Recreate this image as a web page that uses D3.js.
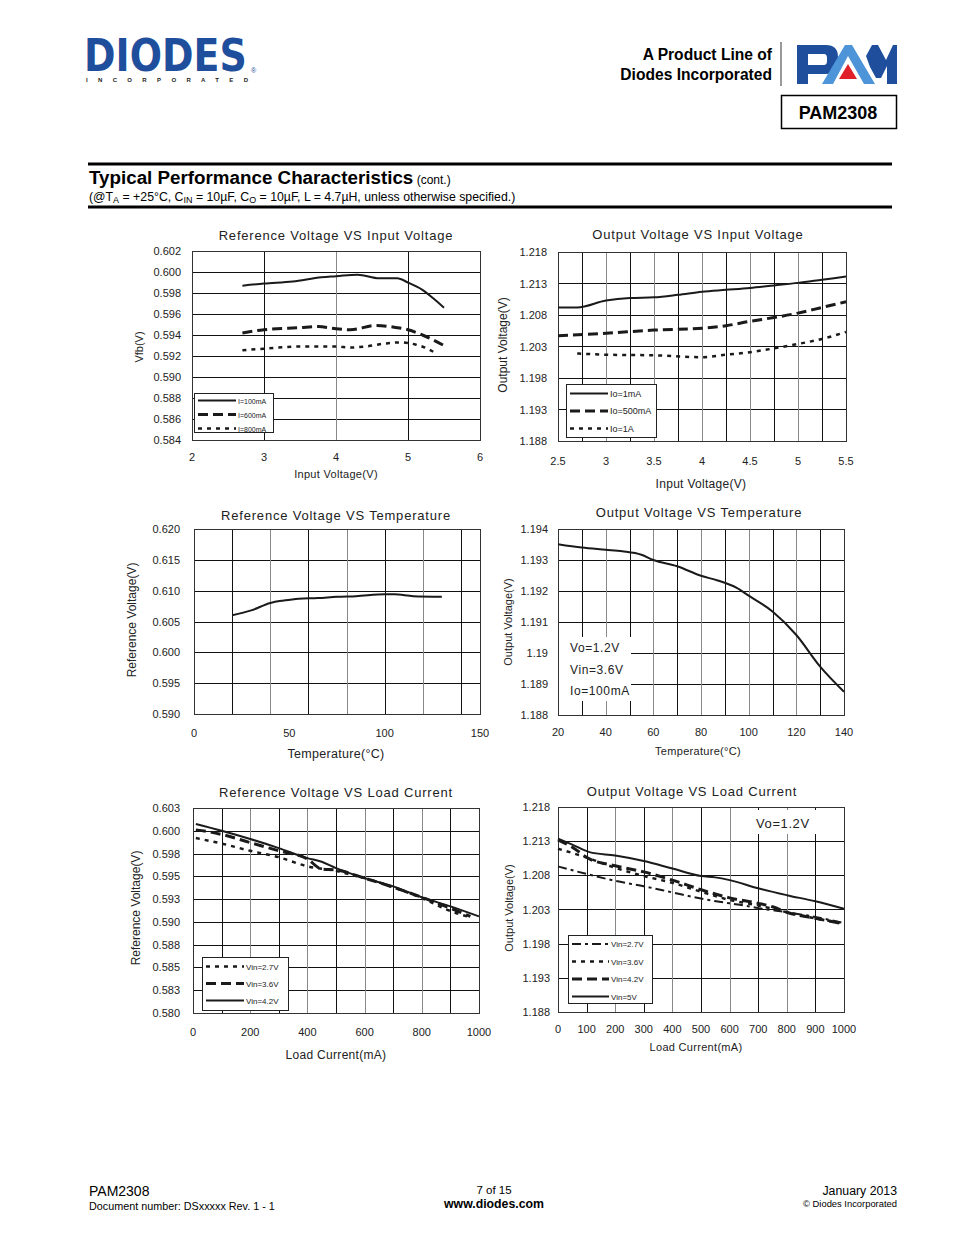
<!DOCTYPE html>
<html>
<head>
<meta charset="utf-8">
<script src="https://cdn.jsdelivr.net/npm/d3@7"></script>
<style>
  body { margin: 0; background: #fff; }
  svg { display: block; font-family: "Liberation Sans", Arial, sans-serif; }
</style>
</head>
<body>
<div id="root"></div>
<script>
// ---- chart 1: reference voltage vs input voltage
const vinRef = [2.7, 3.0, 3.4, 3.8, 4.0, 4.3, 4.6, 4.85, 5.0, 5.2, 5.35, 5.5];
const vfb100 = [0.5987, 0.5989, 0.5991, 0.5995, 0.5996, 0.59975, 0.5994, 0.5994, 0.5990, 0.5983, 0.5975, 0.5966];
const vinRef600 = [2.7, 3.0, 3.5, 3.75, 4.0, 4.2, 4.55, 4.85, 5.0, 5.2, 5.5];
const vfb600 = [0.5942, 0.5945, 0.5947, 0.5948, 0.5946, 0.5945, 0.5949, 0.5947, 0.5945, 0.5940, 0.5930];
const vinRef800 = [2.7, 3.0, 3.5, 4.0, 4.2, 4.4, 4.7, 4.9, 5.1, 5.3, 5.4];
const vfb800 = [0.59255, 0.5927, 0.5929, 0.5929, 0.5928, 0.5929, 0.5932, 0.5933, 0.5931, 0.5926, 0.5922];
const c1YTicks = [0.584, 0.586, 0.588, 0.590, 0.592, 0.594, 0.596, 0.598, 0.600, 0.602];
const c1XTicks = [2, 3, 4, 5, 6];

// ---- chart 2: output voltage vs input voltage
const vinOut = [2.5, 2.7, 3.0, 3.25, 3.5, 3.75, 4.0, 4.25, 4.5, 4.75, 5.0, 5.25, 5.5];
const vo1mA = [1.2092, 1.2092, 1.2103, 1.2107, 1.2108, 1.2112, 1.2117, 1.2120, 1.2123, 1.2127, 1.2131, 1.2136, 1.2141];
const vinOut500 = [2.5, 3.0, 3.5, 4.0, 4.25, 4.5, 4.75, 5.0, 5.25, 5.5];
const vo500mA = [1.2047, 1.2051, 1.2056, 1.2059, 1.2063, 1.2070, 1.2076, 1.2083, 1.2092, 1.2101];
const vinOut1A = [2.7, 3.0, 3.5, 4.0, 4.25, 4.5, 4.75, 5.0, 5.25, 5.5];
const vo1A = [1.2019, 1.2017, 1.2016, 1.2013, 1.2017, 1.2021, 1.2027, 1.2034, 1.2042, 1.2053];
const c2YTicks = [1.188, 1.193, 1.198, 1.203, 1.208, 1.213, 1.218];
const c2XTicks = [2.5, 3, 3.5, 4, 4.5, 5, 5.5];
const c2XGrid = [2.75, 3, 3.25, 3.5, 3.75, 4, 4.25, 4.5, 4.75, 5, 5.25];

// ---- chart 3: reference voltage vs temperature
const tempRef = [20, 30, 40, 47, 55, 65, 75, 85, 100, 105, 115, 130];
const vrefTemp = [0.6060, 0.6068, 0.6080, 0.6084, 0.6087, 0.6088, 0.6090, 0.6091, 0.6094, 0.6094, 0.6091, 0.6090];
const c3YTicks = [0.590, 0.595, 0.600, 0.605, 0.610, 0.615, 0.620];
const c3XTicks = [0, 50, 100, 150];
const c3XGrid = [20, 40, 60, 80, 100, 120, 140];

// ---- chart 4: output voltage vs temperature
const tempOut = [20, 30, 40, 47, 55, 60, 70, 80, 87, 95, 100, 110, 120, 130, 140];
const voTemp = [1.19351, 1.1934, 1.19333, 1.19328, 1.19317, 1.1930, 1.1928, 1.19249, 1.19234, 1.1921, 1.19185, 1.19134, 1.19058, 1.18956, 1.18875];
const c4YTicks = [1.188, 1.189, 1.19, 1.191, 1.192, 1.193, 1.194];
const c4XTicks = [20, 40, 60, 80, 100, 120, 140];
const c4XGrid = [30, 40, 50, 60, 70, 80, 90, 100, 110, 120, 130];
const c4Notes = ["Vo=1.2V", "Vin=3.6V", "Io=100mA"];

// ---- chart 5: reference voltage vs load current
const iload42 = [10, 100, 150, 200, 300, 400, 450, 500, 600, 700, 800, 900, 1000];
const vref42 = [0.60074, 0.6000, 0.59956, 0.5991, 0.5981, 0.5970, 0.5966, 0.5959, 0.5948, 0.5939, 0.5927, 0.5917, 0.5906];
const iload36 = [10, 60, 100, 200, 300, 400, 450, 500, 600, 700, 800, 900, 970];
const vref36 = [0.6001, 0.59986, 0.5996, 0.5987, 0.5978, 0.5969, 0.5958, 0.5957, 0.5948, 0.5938, 0.5927, 0.5915, 0.5906];
const iload27 = [10, 100, 200, 300, 400, 500, 550, 600, 700, 800, 900, 970];
const vref27 = [0.5992, 0.5986, 0.5978, 0.5971, 0.5961, 0.5956, 0.5952, 0.5948, 0.5938, 0.5926, 0.5912, 0.5905];
const c5YTicks = [0.58, 0.5825, 0.585, 0.5875, 0.59, 0.5925, 0.595, 0.5975, 0.60, 0.6025];
const c5YLabels = ["0.580", "0.583", "0.585", "0.588", "0.590", "0.593", "0.595", "0.598", "0.600", "0.603"];
const c5XTicks = [0, 200, 400, 600, 800, 1000];
const c5XGrid = [100, 200, 300, 400, 500, 600, 700, 800, 900];

// ---- chart 6: output voltage vs load current
const iout = [0, 50, 110, 200, 300, 400, 500, 550, 600, 700, 800, 900, 1000];
const vo5V = [1.21337, 1.2125, 1.2114, 1.2109, 1.2101, 1.2090, 1.2079, 1.2077, 1.2073, 1.2061, 1.2051, 1.2042, 1.2031];
const iout42 = [0, 50, 110, 200, 300, 400, 500, 600, 700, 750, 800, 900, 1000];
const vo42 = [1.2132, 1.2121, 1.2104, 1.2094, 1.2085, 1.2073, 1.2059, 1.2047, 1.2039, 1.2034, 1.2026, 1.2017, 1.2009];
const iout36 = [0, 100, 200, 300, 400, 500, 600, 700, 800, 900, 1000];
const vo36 = [1.2119, 1.2106, 1.2091, 1.2079, 1.2069, 1.2056, 1.2044, 1.2036, 1.2026, 1.2017, 1.2010];
const iout27 = [0, 100, 200, 300, 400, 500, 600, 650, 700, 800, 900, 1000];
const vo27 = [1.2093, 1.2082, 1.2072, 1.2064, 1.2055, 1.2046, 1.2039, 1.2036, 1.2032, 1.2026, 1.2019, 1.2010];
const c6YTicks = [1.188, 1.193, 1.198, 1.203, 1.208, 1.213, 1.218];
const c6XTicks = [0, 100, 200, 300, 400, 500, 600, 700, 800, 900, 1000];
const c6XGrid = [100, 200, 300, 400, 500, 600, 700, 800, 900];

const zip = (xs, ys) => xs.map((x, i) => [x, ys[i]]);

const STYLES = {
  solid: { w: 2, dash: null },
  long: { w: 3, dash: "10,5" },
  short: { w: 2.5, dash: "4,5" },
  dashdot: { w: 2, dash: "9,4,3,4" }
};

const svg = d3.select('#root').append('svg').attr('width', 954).attr('height', 1235);

// ---------- header ----------
function header() {
  const blue = '#1f4f9c';
  // natural width of the word at 38px is ~163px, stretched vertically to the logo height
  svg.append('text').attr('transform', 'translate(84,71) scale(1,1.15)').text('DIODES')
    .attr('font-size', 38).attr('font-weight', 900).attr('fill', blue)
    .attr('font-family', '"DejaVu Sans", sans-serif');
  svg.append('text').attr('x', 251).attr('y', 73).text('®').attr('font-size', 7).attr('fill', blue);
  svg.append('text').attr('x', 86).attr('y', 82).text('INCORPORATED')
    .attr('font-size', 6).attr('font-weight', 'bold').attr('fill', '#222')
    .attr('textLength', 162).attr('lengthAdjust', 'spacing');

  svg.append('text').attr('x', 772).attr('y', 60).attr('text-anchor', 'end')
    .attr('font-size', 15.6).attr('font-weight', 'bold').text('A Product Line of');
  svg.append('text').attr('x', 772).attr('y', 80).attr('text-anchor', 'end')
    .attr('font-size', 15.6).attr('font-weight', 'bold').text('Diodes Incorporated');
  svg.append('line').attr('x1', 781).attr('x2', 781).attr('y1', 42).attr('y2', 86)
    .attr('stroke', '#333').attr('stroke-width', 1);

  // PAM logo
  const g = svg.append('g');
  g.append('path').attr('fill', '#1f4f9c')
    .attr('d', 'M797,45 H826 Q838,45 838,57 V62 Q838,74 826,74 H808 V84 H797 Z M808,54 V65 H824 Q827,65 827,61 V58 Q827,54 824,54 Z');
  g.append('path').attr('fill', '#4d94d8')
    .attr('d', 'M822,84 L845,45 H852 L875,84 H864 L848,56 L833,84 Z');
  g.append('path').attr('fill', '#e0202a').attr('d', 'M848,64 L857,79 H839 Z');
  g.append('path').attr('fill', '#1f4f9c')
    .attr('d', 'M866,56 L872,45 H878 L886,60 L893,45 H897 V84 H887 V66 L881,78 H876 L870,67 Z');

  svg.append('rect').attr('x', 781.5).attr('y', 95.5).attr('width', 115).attr('height', 33)
    .attr('fill', 'none').attr('stroke', '#000').attr('stroke-width', 1.5);
  svg.append('text').attr('x', 838).attr('y', 119).attr('text-anchor', 'middle')
    .attr('font-size', 18).attr('font-weight', 'bold').text('PAM2308');

  svg.append('rect').attr('x', 88).attr('y', 162.5).attr('width', 804).attr('height', 3);
  svg.append('rect').attr('x', 88).attr('y', 205.5).attr('width', 804).attr('height', 3);
  const t = svg.append('text').attr('x', 89).attr('y', 184);
  t.append('tspan').attr('font-size', 18.8).attr('font-weight', 'bold').text('Typical Performance Characteristics');
  t.append('tspan').attr('font-size', 12).text(' (cont.)');

  const s = svg.append('text').attr('x', 89).attr('y', 201).attr('font-size', 12.3);
  s.append('tspan').text('(@T');
  s.append('tspan').attr('font-size', 9).attr('dy', 2).text('A');
  s.append('tspan').attr('dy', -2).text(' = +25°C, C');
  s.append('tspan').attr('font-size', 9).attr('dy', 2).text('IN');
  s.append('tspan').attr('dy', -2).text(' = 10µF, C');
  s.append('tspan').attr('font-size', 9).attr('dy', 2).text('O');
  s.append('tspan').attr('dy', -2).text(' = 10µF, L = 4.7µH, unless otherwise specified.)');
}

// ---------- generic chart ----------
function chart(c) {
  const x = d3.scaleLinear().domain(c.xDomain).range([c.left, c.right]);
  const y = d3.scaleLinear().domain(c.yDomain).range([c.bottom, c.top]);
  const g = svg.append('g');

  // grid
  g.selectAll('.hg').data(c.yTicks).enter().append('line')
    .attr('x1', c.left).attr('x2', c.right)
    .attr('y1', d => Math.round(y(d)) + 0.5).attr('y2', d => Math.round(y(d)) + 0.5)
    .attr('stroke', '#111').attr('stroke-width', 1);
  g.selectAll('.vg').data(c.xGrid).enter().append('line')
    .attr('y1', c.top).attr('y2', c.bottom)
    .attr('x1', d => Math.round(x(d)) + 0.5).attr('x2', d => Math.round(x(d)) + 0.5)
    .attr('stroke', (d, i) => (i % 2 === 0 ? '#111' : '#888')).attr('stroke-width', 1);
  g.append('rect').attr('x', c.left + 0.5).attr('y', c.top + 0.5)
    .attr('width', c.right - c.left).attr('height', c.bottom - c.top)
    .attr('fill', 'none').attr('stroke', '#333').attr('stroke-width', 1);

  // notes box (white panel over grid)
  if (c.notes) {
    g.append('rect').attr('x', c.notes.x).attr('y', c.notes.y)
      .attr('width', c.notes.w).attr('height', c.notes.h).attr('fill', '#fff');
    c.notes.lines.forEach((s, i) => {
      g.append('text').attr('x', c.notes.x + c.notes.tx).attr('y', c.notes.y + c.notes.ty + i * c.notes.step)
        .attr('font-size', c.notes.fs).attr('letter-spacing', 0.6).attr('fill', '#222').text(s);
    });
  }

  // series
  const line = d3.line().x(d => x(d[0])).y(d => y(d[1])).curve(d3.curveMonotoneX);
  c.series.forEach(s => {
    const st = STYLES[s.style];
    g.append('path').datum(s.data).attr('d', line)
      .attr('fill', 'none').attr('stroke', '#1a1a1a')
      .attr('stroke-width', st.w).attr('stroke-dasharray', st.dash);
  });

  // y tick labels
  const yl = c.yLabels || c.yTicks.map(c.yFmt);
  g.selectAll('.yl').data(c.yTicks).enter().append('text')
    .attr('x', c.left - c.yGap).attr('y', d => y(d) + 4)
    .attr('text-anchor', 'end').attr('font-size', 11).attr('fill', '#222')
    .text((d, i) => yl[i]);
  // x tick labels
  g.selectAll('.xl').data(c.xTicks).enter().append('text')
    .attr('x', d => x(d)).attr('y', c.bottom + c.xGap)
    .attr('text-anchor', 'middle').attr('font-size', 11).attr('fill', '#222')
    .text(c.xFmt || (d => d));

  // titles
  g.append('text').attr('x', c.titleX).attr('y', c.titleY).attr('text-anchor', 'middle')
    .attr('font-size', 13).attr('letter-spacing', 0.8).attr('fill', '#222').text(c.title);
  g.append('text').attr('x', c.xTitleX).attr('y', c.xTitleY).attr('text-anchor', 'middle')
    .attr('font-size', c.xTitleFs || 11.5).attr('letter-spacing', 0.3).attr('fill', '#222').text(c.xTitle);
  g.append('text').attr('transform', `translate(${c.yTitleX},${c.yTitleY}) rotate(-90)`)
    .attr('text-anchor', 'middle').attr('font-size', c.yTitleFs || 11).attr('fill', '#222').text(c.yTitle);

  // legend
  if (c.legend) {
    const L = c.legend;
    g.append('rect').attr('x', L.x + 0.5).attr('y', L.y + 0.5).attr('width', L.w).attr('height', L.h)
      .attr('fill', '#fff').attr('stroke', '#222').attr('stroke-width', 1);
    L.items.forEach((it, i) => {
      const st = STYLES[it.style];
      const yy = L.y + L.first + i * L.step;
      g.append('line').attr('x1', L.x + 4).attr('x2', L.x + 4 + L.len).attr('y1', yy).attr('y2', yy)
        .attr('stroke', '#1a1a1a').attr('stroke-width', st.w).attr('stroke-dasharray', st.dash);
      g.append('text').attr('x', L.x + 6 + L.len).attr('y', yy + 3)
        .attr('font-size', L.fs).attr('fill', '#222').text(it.label);
    });
  }
}

function footer() {
  svg.append('text').attr('x', 89).attr('y', 1196).attr('font-size', 14).text('PAM2308');
  svg.append('text').attr('x', 89).attr('y', 1210).attr('font-size', 10.8).text('Document number: DSxxxxx Rev. 1 - 1');
  svg.append('text').attr('x', 494).attr('y', 1194).attr('font-size', 11.5).attr('text-anchor', 'middle').text('7 of 15');
  svg.append('text').attr('x', 494).attr('y', 1208).attr('font-size', 12.3).attr('font-weight', 'bold')
    .attr('text-anchor', 'middle').text('www.diodes.com');
  svg.append('text').attr('x', 897).attr('y', 1195).attr('font-size', 12.3).attr('text-anchor', 'end').text('January 2013');
  svg.append('text').attr('x', 897).attr('y', 1207).attr('font-size', 9.4).attr('text-anchor', 'end').text('© Diodes Incorporated');
}

header();

chart({
  left: 192, right: 480, top: 251, bottom: 440,
  xDomain: [2, 6], yDomain: [0.584, 0.602],
  yTicks: c1YTicks, yFmt: d3.format('.3f'), yGap: 11,
  xTicks: c1XTicks, xGrid: [3, 4, 5], xGap: 21,
  title: 'Reference Voltage VS Input Voltage', titleX: 336, titleY: 240,
  xTitle: 'Input Voltage(V)', xTitleX: 336, xTitleY: 478, xTitleFs: 11,
  yTitle: 'Vfb(V)', yTitleX: 143, yTitleY: 347,
  series: [
    { data: zip(vinRef, vfb100), style: 'solid' },
    { data: zip(vinRef600, vfb600), style: 'long' },
    { data: zip(vinRef800, vfb800), style: 'short' }
  ],
  legend: { x: 194, y: 393, w: 79, h: 39, first: 7.5, step: 14, len: 38, fs: 7,
    items: [{ label: 'I=100mA', style: 'solid' }, { label: 'I=600mA', style: 'long' }, { label: 'I=800mA', style: 'short' }] }
});

chart({
  left: 558, right: 846, top: 252, bottom: 441,
  xDomain: [2.5, 5.5], yDomain: [1.188, 1.218],
  yTicks: c2YTicks, yFmt: d3.format('.3f'), yGap: 11,
  xTicks: c2XTicks, xGrid: c2XGrid, xGap: 24,
  title: 'Output Voltage VS Input Voltage', titleX: 698, titleY: 239,
  xTitle: 'Input Voltage(V)', xTitleX: 701, xTitleY: 488, xTitleFs: 12,
  yTitle: 'Output Voltage(V)', yTitleX: 507, yTitleY: 345, yTitleFs: 12,
  series: [
    { data: zip(vinOut, vo1mA), style: 'solid' },
    { data: zip(vinOut500, vo500mA), style: 'long' },
    { data: zip(vinOut1A, vo1A), style: 'short' }
  ],
  legend: { x: 566, y: 384, w: 90, h: 53, first: 9.5, step: 17.5, len: 38, fs: 9,
    items: [{ label: 'Io=1mA', style: 'solid' }, { label: 'Io=500mA', style: 'long' }, { label: 'Io=1A', style: 'short' }] }
});

chart({
  left: 194, right: 480, top: 529, bottom: 714,
  xDomain: [0, 150], yDomain: [0.590, 0.620],
  yTicks: c3YTicks, yFmt: d3.format('.3f'), yGap: 14,
  xTicks: c3XTicks, xGrid: c3XGrid, xGap: 23,
  title: 'Reference Voltage VS Temperature', titleX: 336, titleY: 520,
  xTitle: 'Temperature(°C)', xTitleX: 336, xTitleY: 758, xTitleFs: 12.5,
  yTitle: 'Reference Voltage(V)', yTitleX: 136, yTitleY: 620, yTitleFs: 12,
  series: [{ data: zip(tempRef, vrefTemp), style: 'solid' }]
});

chart({
  left: 558, right: 844, top: 529, bottom: 715,
  xDomain: [20, 140], yDomain: [1.188, 1.194],
  yTicks: c4YTicks, yFmt: d => (Math.round(d * 1000) % 10 === 0 ? d3.format('.2f')(d) : d3.format('.3f')(d)), yGap: 10,
  xTicks: c4XTicks, xGrid: c4XGrid, xGap: 21,
  title: 'Output Voltage VS Temperature', titleX: 699, titleY: 517,
  xTitle: 'Temperature(°C)', xTitleX: 698, xTitleY: 755, xTitleFs: 11,
  yTitle: 'Output Voltage(V)', yTitleX: 512, yTitleY: 622, yTitleFs: 11,
  series: [{ data: zip(tempOut, voTemp), style: 'solid' }],
  notes: { x: 559, y: 637, w: 72, h: 64, tx: 11, ty: 15, step: 21.5, fs: 12, lines: c4Notes }
});

chart({
  left: 193, right: 479, top: 808, bottom: 1013,
  xDomain: [0, 1000], yDomain: [0.58, 0.6025],
  yTicks: c5YTicks, yLabels: c5YLabels, yGap: 13,
  xTicks: c5XTicks, xGrid: c5XGrid, xGap: 23,
  title: 'Reference Voltage VS Load Current', titleX: 336, titleY: 797,
  xTitle: 'Load Current(mA)', xTitleX: 336, xTitleY: 1059, xTitleFs: 12,
  yTitle: 'Reference Voltage(V)', yTitleX: 140, yTitleY: 908, yTitleFs: 12,
  series: [
    { data: zip(iload42, vref42), style: 'solid' },
    { data: zip(iload36, vref36), style: 'long' },
    { data: zip(iload27, vref27), style: 'short' }
  ],
  legend: { x: 202, y: 957, w: 86, h: 53, first: 9.5, step: 17, len: 38, fs: 8,
    items: [{ label: 'Vin=2.7V', style: 'short' }, { label: 'Vin=3.6V', style: 'long' }, { label: 'Vin=4.2V', style: 'solid' }] }
});

chart({
  left: 558, right: 844, top: 807, bottom: 1012,
  xDomain: [0, 1000], yDomain: [1.188, 1.218],
  yTicks: c6YTicks, yFmt: d3.format('.3f'), yGap: 8,
  xTicks: c6XTicks, xGrid: c6XGrid, xGap: 21,
  title: 'Output Voltage VS Load Current', titleX: 692, titleY: 796,
  xTitle: 'Load Current(mA)', xTitleX: 696, xTitleY: 1051, xTitleFs: 11,
  yTitle: 'Output Voltage(V)', yTitleX: 513, yTitleY: 908, yTitleFs: 11,
  series: [
    { data: zip(iout, vo5V), style: 'solid' },
    { data: zip(iout42, vo42), style: 'long' },
    { data: zip(iout36, vo36), style: 'short' },
    { data: zip(iout27, vo27), style: 'dashdot' }
  ],
  notes: { x: 748, y: 810, w: 72, h: 24, tx: 8, ty: 18, step: 0, fs: 13, lines: ['Vo=1.2V'] },
  legend: { x: 568, y: 935, w: 84, h: 68, first: 9, step: 17.5, len: 37, fs: 8,
    items: [{ label: 'Vin=2.7V', style: 'dashdot' }, { label: 'Vin=3.6V', style: 'short' }, { label: 'Vin=4.2V', style: 'long' }, { label: 'Vin=5V', style: 'solid' }] }
});

footer();
</script>
</body>
</html>
